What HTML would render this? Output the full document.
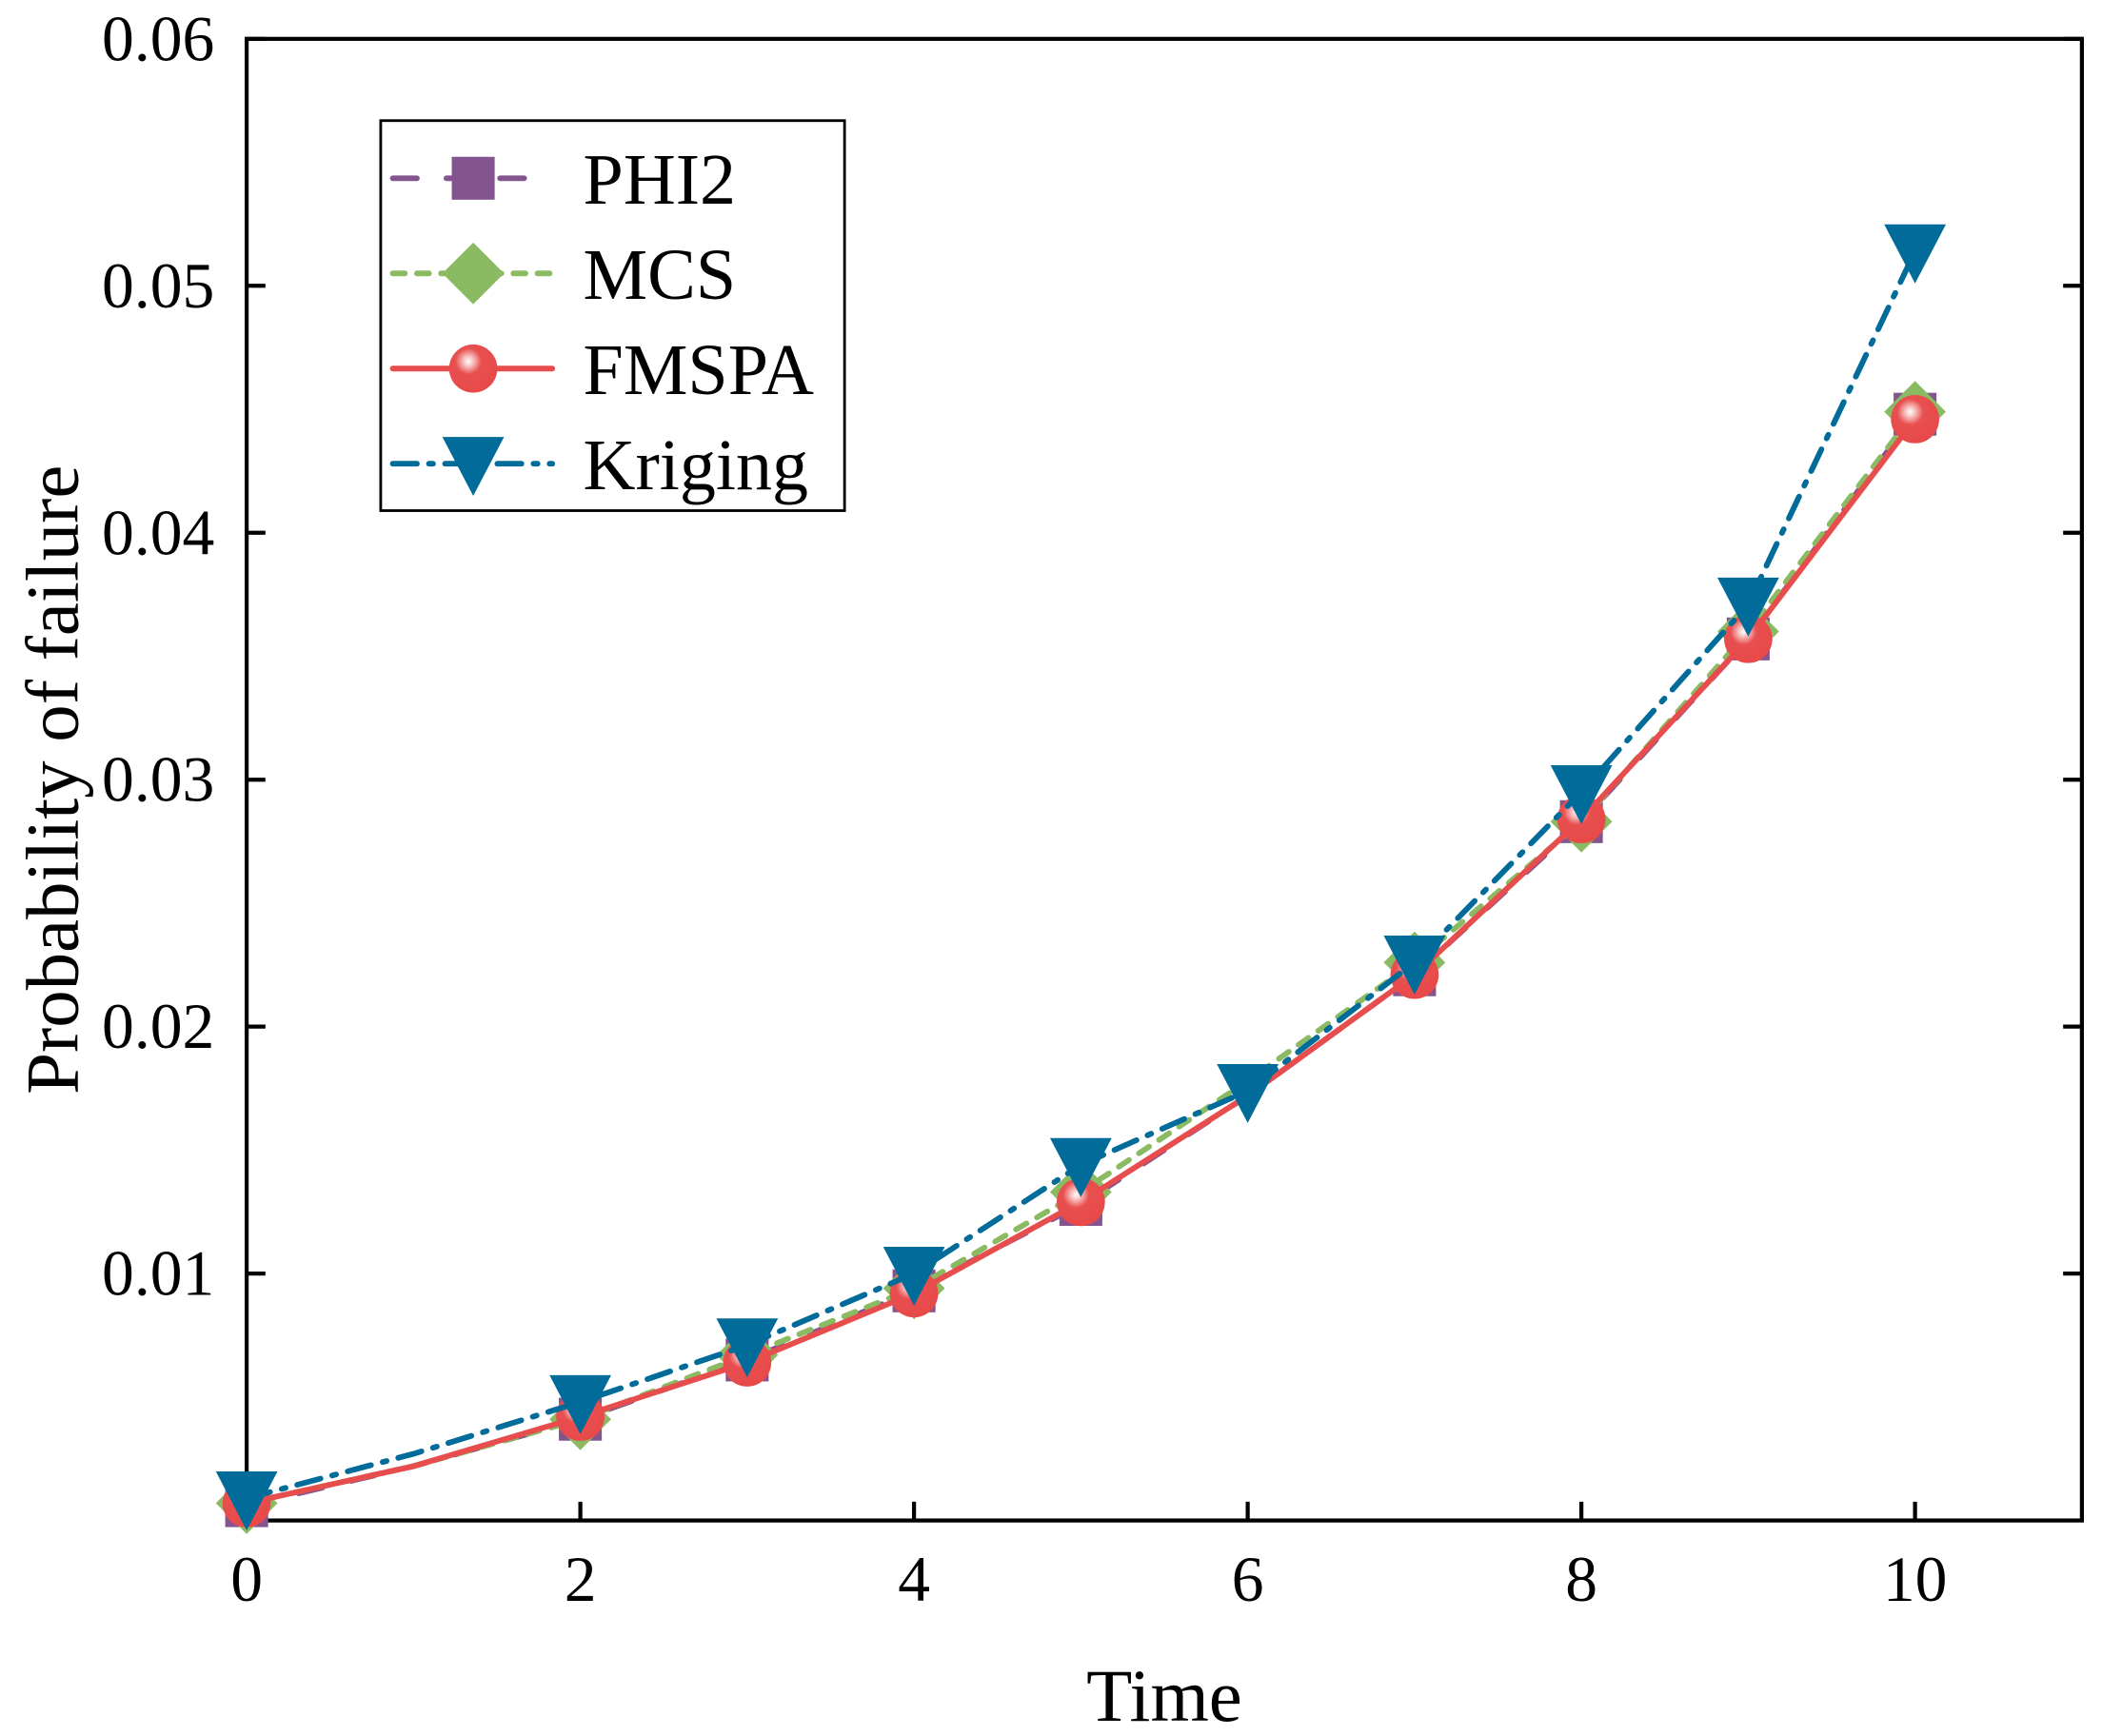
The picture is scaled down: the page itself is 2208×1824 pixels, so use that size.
<!DOCTYPE html>
<html><head><meta charset="utf-8"><style>
html,body{margin:0;padding:0;background:#fff;}
svg{display:block;}
text{font-family:"Liberation Serif",serif;fill:#000;}
</style></head><body>
<svg id="chart" width="2208" height="1824" viewBox="0 0 1568 1295.3" preserveAspectRatio="none" xmlns="http://www.w3.org/2000/svg">
<defs>
<radialGradient id="ballGrad" cx="0.4" cy="0.35" r="0.6">
<stop offset="0" stop-color="#fff"/><stop offset="0.2" stop-color="#f7b5b5"/><stop offset="0.45" stop-color="#e84f4f"/><stop offset="1" stop-color="#e84a4a"/>
</radialGradient>
</defs>
<g id="plot"></g>
</svg>
<script>
const times = [0,1,2,3,4,5,6,7,8,9,10];
const phi2 = [0.0006,0.0022,0.0041,0.0065,0.0093,0.0128,0.0172,0.0221,0.0283,0.0357,0.0448];
const mcs = [0.0007,0.0022,0.0041,0.0067,0.0094,0.0133,0.0178,0.0226,0.0283,0.0360,0.0449];
const fmspa = [0.0007,0.0022,0.0042,0.0064,0.0092,0.0129,0.0172,0.0221,0.0284,0.0357,0.0446];
const kriging = [0.0009,0.0027,0.0048,0.0071,0.0100,0.0144,0.0174,0.0226,0.0295,0.0371,0.0514];
const markerTimes = [0,2,3,4,5,7,8,9,10];
const krigingMarkerTimes = [0,2,3,4,5,6,7,8,9,10];
const xTicks = [0,2,4,6,8,10];
const yTicks = [0.01,0.02,0.03,0.04,0.05,0.06];
const yTickLabels = ["0.01","0.02","0.03","0.04","0.05","0.06"];

const L=184,R=1553,T=29,B=1134.5;
const xMax=11,yMax=0.06;
const X=v=>L+(R-L)*v/xMax;
const Y=v=>B-(B-T)*v/yMax;
const NS="http://www.w3.org/2000/svg";
const g=document.getElementById('plot');
function mk(tag,attrs,parent){const e=document.createElementNS(NS,tag);for(const k in attrs)e.setAttribute(k,attrs[k]);(parent||g).appendChild(e);return e;}

const frame=mk('rect',{x:L,y:T,width:R-L,height:B-T,fill:'none',stroke:'#000','stroke-width':3});



xTicks.forEach(v=>{
  const t=mk('line',{x1:X(v),x2:X(v),y1:B,y2:B-14,stroke:'#000','stroke-width':3});
  
  
  const lb=mk('text',{x:X(v),y:B+60,'text-anchor':'middle','font-size':48});
  lb.textContent=String(v);
  
  
});
yTicks.forEach((v,i)=>{
  const t=mk('line',{x1:L,x2:L+14,y1:Y(v),y2:Y(v),stroke:'#000','stroke-width':3});
  
  
  const t2=mk('line',{x1:R,x2:R-14,y1:Y(v),y2:Y(v),stroke:'#000','stroke-width':3});
  
  
  const lb=mk('text',{x:L-24,y:Y(v)+16,'text-anchor':'end','font-size':48});
  lb.textContent=yTickLabels[i];
  
  
});
const xt=mk('text',{x:(L+R)/2,y:1284,'text-anchor':'middle','font-size':56});
xt.textContent='Time';


const yt=mk('text',{x:0,y:0,'text-anchor':'middle','font-size':56,transform:'translate(58,'+((T+B)/2)+') rotate(-90)'});
yt.textContent='Probability of failure';



function marker(type,cx,cy,parent){
  let e;
  if(type==='square'){e=mk('rect',{x:cx-16,y:cy-16,width:32,height:32,fill:'#84548f'},parent);}
  else if(type==='diamond'){e=mk('polygon',{points:`${cx},${cy-23} ${cx+23},${cy} ${cx},${cy+23} ${cx-23},${cy}`,fill:'#8aba62'},parent);}
  else if(type==='ball'){e=mk('circle',{cx:cx,cy:cy,r:18,fill:'url(#ballGrad)'},parent);}
  else {e=mk('polygon',{points:`${cx-23},${cy-20} ${cx+23},${cy-20} ${cx},${cy+24}`,fill:'#016b9a'},parent);}
  return e;
}
const series=[
 {name:'phi2',vals:phi2,color:'#84548f',dash:'18 22',type:'square',mt:markerTimes},
 {name:'mcs',vals:mcs,color:'#8aba62',dash:'9 9',type:'diamond',mt:markerTimes},
 {name:'fmspa',vals:fmspa,color:'#e84d4d',dash:'',type:'ball',mt:markerTimes},
 {name:'kriging',vals:kriging,color:'#016b9a',dash:'18 9 3 9',type:'tri',mt:krigingMarkerTimes}
];
series.forEach(s=>{
  const sg=mk('g',{});
  
  
  const pts=times.map((t,i)=>X(t)+','+Y(s.vals[i])).join(' ');
  const pl=mk('polyline',{points:pts,fill:'none',stroke:s.color,'stroke-width':4.2,'stroke-dasharray':s.dash,'stroke-linecap':'round'},sg);
  
  
  s.mt.forEach(t=>{
    const i=times.indexOf(t);
    const m=marker(s.type,X(t),Y(s.vals[i]),sg);
    
    
  });
});

const lg=mk('g',{});


const lb=mk('rect',{x:284,y:90,width:346,height:291,fill:'#fff',stroke:'#000','stroke-width':2},lg);


const labels=['PHI2','MCS','FMSPA','Kriging'];
series.forEach((s,i)=>{
  const y=133+i*71;
  const eg=mk('g',{},lg);
  
  
  mk('line',{x1:293,x2:412,y1:y,y2:y,stroke:s.color,'stroke-width':4.2,'stroke-dasharray':s.dash,'stroke-linecap':'round'},eg);
  marker(s.type,353,y,eg);
  const tx=mk('text',{x:435,y:y+19,'font-size':54},eg);
  tx.textContent=labels[i];
});
</script>
</body></html>
